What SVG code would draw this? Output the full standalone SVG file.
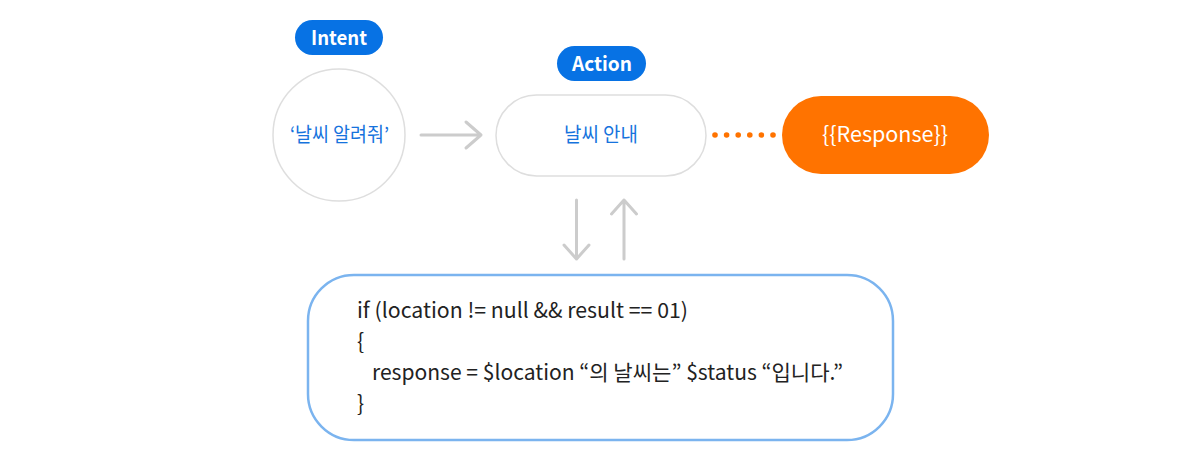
<svg xmlns="http://www.w3.org/2000/svg" width="1200" height="460" viewBox="0 0 1200 460">
<defs>
<style>
.pill{fill:#0772e4}
.pilltxt{font-family:"Noto Sans CJK KR","Noto Sans",sans-serif;font-weight:700;font-size:20px;fill:#ffffff;text-anchor:middle}
.node{fill:#ffffff;stroke:#dedede;stroke-width:1.5}
.ntxt{font-family:"Noto Sans CJK KR","Noto Sans",sans-serif;font-size:20px;fill:#1673dd;text-anchor:middle}
.conn{fill:none;stroke:#cccccc;stroke-width:3;stroke-linecap:round;stroke-linejoin:round}
.dot{fill:#ff7300}
.code{font-family:"Noto Sans CJK KR","Noto Sans",sans-serif;font-size:21px;fill:#222222}
</style>
</defs>
<rect width="1200" height="460" fill="#ffffff"/>
<g id="intent-label">
<rect class="pill" x="295" y="20" width="88" height="35" rx="17.5"/>
<text class="pilltxt" x="339" y="45" textLength="56" lengthAdjust="spacingAndGlyphs">Intent</text>
</g>
<g id="intent">
<circle class="node" cx="339" cy="135" r="66"/>
<text class="ntxt" x="339.5" y="142" textLength="99" lengthAdjust="spacingAndGlyphs">‘날씨 알려줘’</text>
</g>
<g id="action-label">
<rect class="pill" x="557" y="46" width="89" height="35" rx="17.5"/>
<text class="pilltxt" x="602" y="71" textLength="60" lengthAdjust="spacingAndGlyphs">Action</text>
</g>
<g id="action">
<rect class="node" x="496" y="95" width="210" height="81" rx="40.5"/>
<text class="ntxt" x="601" y="142" textLength="74" lengthAdjust="spacingAndGlyphs">날씨 안내</text>
</g>
<g id="response">
<rect x="782" y="96" width="207" height="78" rx="39" fill="#ff7300"/>
<text x="885" y="142" font-family="Noto Sans CJK KR, Noto Sans, sans-serif" font-size="21" fill="#ffffff" text-anchor="middle" textLength="126" lengthAdjust="spacingAndGlyphs">{{Response}}</text>
</g>
<g id="logic">
<rect x="308" y="275" width="585" height="165" rx="46" fill="#ffffff" stroke="#7bb4ef" stroke-width="2.5"/>
<text class="code" x="357" y="318" textLength="331" lengthAdjust="spacingAndGlyphs">if (location != null &amp;&amp; result == 01)</text>
<text class="code" x="357" y="349">{</text>
<text class="code" x="372" y="380" textLength="471" lengthAdjust="spacingAndGlyphs">response = $location “의 날씨는” $status “입니다.”</text>
<text class="code" x="357" y="411">}</text>
</g>
<g id="connectors">
<path class="conn" d="M421 135 H481 M466 122 L481 135 L466 148"/>
<circle class="dot" cx="715" cy="135" r="2.8"/>
<circle class="dot" cx="726.6" cy="135" r="2.8"/>
<circle class="dot" cx="738.2" cy="135" r="2.8"/>
<circle class="dot" cx="749.8" cy="135" r="2.8"/>
<circle class="dot" cx="761.4" cy="135" r="2.8"/>
<circle class="dot" cx="773" cy="135" r="2.8"/>
<path class="conn" d="M576.5 200 V259 M564 245 L576.5 259 L589 245"/>
<path class="conn" d="M624 259 V200 M611.5 214 L624 200 L636.5 214"/>
</g>
</svg>
